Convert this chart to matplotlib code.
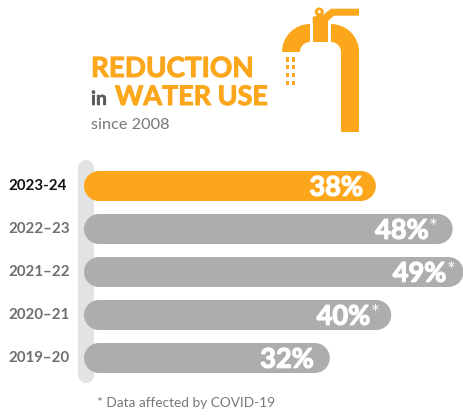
import numpy as np
import matplotlib
matplotlib.use('Agg')
import matplotlib.pyplot as plt
import matplotlib.patheffects as pe
from matplotlib.patches import Wedge, Rectangle, Polygon, Circle

years = ['2023-24', '2022–23', '2021–22', '2020–21', '2019–20']
values = [38, 48, 49.4, 40, 32]
labels = ['38%', '48%', '49%', '40%', '32%']
stars = [False, True, True, True, False]

ORANGE = '#fca61c'
GREY = '#adadad'
TRACK = '#e1e3e5'

W, H = 463, 415
PX_PER_PCT = 7.68
ROW = 43.0

# gap between bar end and label end, pixels
label_pad = [13, 24, 17, 21, 16]

fig = plt.figure(figsize=(W / 100, H / 100), dpi=100)


def heavy(col, lw=0.7):
    return [pe.withStroke(linewidth=lw, foreground=col)]


def pill(ax, x0, x1, y0, y1, rad, col, z):
    # rounded box with true circular corners, rad given in pixels
    rx = rad / PX_PER_PCT
    ry = rad / ROW
    t = np.linspace(0, np.pi / 2, 20)
    xs = np.concatenate([x1 - rx + rx * np.cos(t), x0 + rx - rx * np.sin(t),
                         x0 + rx - rx * np.cos(t), x1 - rx + rx * np.sin(t)])
    ys = np.concatenate([y1 - ry + ry * np.sin(t), y1 - ry + ry * np.cos(t),
                         y0 + ry - ry * np.sin(t), y0 + ry - ry * np.cos(t)])
    ax.fill(xs, ys, fc=col, ec='none', zorder=z)


# bars, in percent / row units
ax = fig.add_axes([0, 0, 1, 1])
ax.set_xlim(-84 / PX_PER_PCT, (W - 84) / PX_PER_PCT)
ax.set_ylim((H - 186) / ROW, -186 / ROW)
ax.axis('off')

h = 30 / ROW

# grey track behind the bars
pill(ax, -6 / PX_PER_PCT, 10 / PX_PER_PCT, -26 / ROW, 197 / ROW, 8, TRACK, 1)

for i, v in enumerate(values):
    col = ORANGE if i == 0 else GREY
    pill(ax, 0, v, i - h / 2, i + h / 2, 15, col, 2)
    xr = v - label_pad[i] / PX_PER_PCT
    ax.text(xr, i + 0.04, labels[i], color='white', ha='right', va='center',
            fontsize=19.5, family='Lato', weight='bold', zorder=3,
            path_effects=heavy('white', 0.9))
    if stars[i]:
        ax.text(xr + 0.05, i - 0.03, '*', color='white', ha='left', va='center',
                fontsize=15, family='Lato', zorder=3)
    ax.text(-9.85, i, years[i], ha='left', va='center', fontsize=10.8,
            family='Lato', weight='bold',
            color='#111111' if i == 0 else '#6d6e70')

# header text and tap icon, in pixels
px = fig.add_axes([0, 0, 1, 1])
px.set_xlim(0, W)
px.set_ylim(H, 0)
px.axis('off')
px.patch.set_alpha(0)

px.text(91, 77, 'REDUCTION', color=ORANGE, fontsize=20, family='Lato', weight='bold',
        va='baseline', path_effects=heavy(ORANGE))
px.text(91, 105, 'in', color='#58595b', fontsize=14, family='Lato', weight='bold',
        va='baseline', path_effects=heavy('#58595b', 0.4))
px.text(115, 105, 'WATER USE', color=ORANGE, fontsize=19.4, family='Lato', weight='bold',
        va='baseline', path_effects=heavy(ORANGE))
px.text(91, 129, 'since 2008', color='#77787b', fontsize=11.7, family='Lato', va='baseline')
px.text(97, 407, '* Data affected by COVID-19', color='#77787b', fontsize=9.8,
        family='Lato', va='baseline')

# y axis points down here, so wedge angles are mirrored
px.add_patch(Wedge((331, 52), 28, 270, 360, width=18, fc=ORANGE, ec='none'))
px.add_patch(Rectangle((341, 52), 18, 80, fc=ORANGE, ec='none'))
px.add_patch(Wedge((310, 52), 28, 180, 270, width=18, fc=ORANGE, ec='none'))
px.add_patch(Rectangle((312.7, 22), 15.5, 20, fc=ORANGE, ec='none'))
px.add_patch(Polygon([(312.7, 16.7), (323, 15), (331, 8.7), (359, 8.7), (359, 15.7), (334, 15.7),
                      (328, 21), (328, 23), (312.7, 23)], fc=ORANGE, ec='none'))
px.add_patch(Circle((319.3, 12), 4.5, fc=ORANGE, ec='none'))
px.add_patch(Circle((319.3, 11.7), 1.5, fc='white', ec='none'))
for x in [287.5, 293.2]:
    for y in [57.5, 65, 72.7, 81]:
        px.add_patch(Rectangle((x - 1.5, y), 3, 4.5, fc=ORANGE, ec='none'))

fig.savefig('out.png', dpi=100)
